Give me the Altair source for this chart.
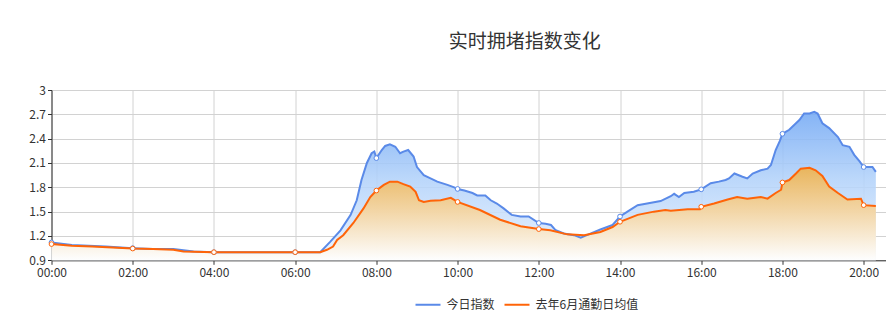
import altair as alt
import pandas as pd

# ---------------- data ----------------
series_names = ["今日指数", "去年6月通勤日均值"]
series_colors = ["#5a8ae8", "#ff6408"]

today_times = [
    "00:00", "00:30", "01:20", "02:00", "02:30", "03:00", "03:30", "04:00", "06:00", "06:37",
    "06:52", "07:07", "07:22", "07:31", "07:38", "07:46", "07:53", "07:57", "08:00", "08:08",
    "08:13", "08:20", "08:28", "08:35", "08:40", "08:47", "08:55", "09:00", "09:10", "09:20",
    "09:30", "09:45", "09:55", "10:00", "10:10", "10:22", "10:29", "10:41", "10:49", "10:58",
    "11:08", "11:20", "11:33", "11:45", "12:00", "12:10", "12:18", "12:25", "12:37", "12:52",
    "13:02", "13:11", "13:31", "13:49", "14:00", "14:11", "14:26", "14:40", "15:00", "15:15",
    "15:20", "15:27", "15:35", "15:49", "16:00", "16:14", "16:26", "16:36", "16:41", "16:49",
    "17:01", "17:08", "17:16", "17:28", "17:38", "17:43", "17:50", "17:56", "18:00", "18:10",
    "18:20", "18:25", "18:32", "18:40", "18:47", "18:52", "18:59", "19:09", "19:22", "19:29",
    "19:39", "19:46", "19:54", "20:00", "20:13", "20:18",
]
today_values = [
    1.12, 1.09, 1.07, 1.05, 1.04, 1.04, 1.01, 1.00, 1.00, 1.00,
    1.13, 1.27, 1.46, 1.64, 1.89, 2.10, 2.22, 2.24, 2.16, 2.26,
    2.31, 2.33, 2.30, 2.22, 2.24, 2.26, 2.18, 2.05, 1.95, 1.91,
    1.87, 1.83, 1.80, 1.78, 1.76, 1.73, 1.70, 1.70, 1.64, 1.60,
    1.54, 1.46, 1.44, 1.44, 1.36, 1.35, 1.335, 1.27, 1.23, 1.21,
    1.18, 1.21, 1.28, 1.335, 1.44, 1.50, 1.58, 1.60, 1.63, 1.69,
    1.72, 1.68, 1.73, 1.745, 1.775, 1.85, 1.87, 1.89, 1.91, 1.97,
    1.93, 1.91, 1.97, 2.01, 2.03, 2.075, 2.26, 2.37, 2.46, 2.51,
    2.59, 2.63, 2.71, 2.71, 2.73, 2.71, 2.59, 2.53, 2.42, 2.32,
    2.30, 2.20, 2.12, 2.05, 2.05, 1.99,
]

lastyear_times = [
    "00:00", "00:30", "01:00", "02:00", "02:30", "03:00", "03:15", "04:00", "06:00", "06:37",
    "06:47", "06:56", "07:02", "07:11", "07:26", "07:41", "07:51", "08:00", "08:11", "08:20",
    "08:31", "08:40", "08:50", "08:58", "09:03", "09:10", "09:20", "09:35", "09:50", "10:00",
    "10:33", "11:03", "11:33", "12:00", "12:17", "12:42", "13:07", "13:31", "13:49", "14:00",
    "14:26", "14:50", "15:07", "15:15", "15:40", "15:58", "16:00", "16:19", "16:39", "16:53",
    "17:08", "17:28", "17:38", "17:50", "17:58", "18:00", "18:10", "18:20", "18:27", "18:40",
    "18:49", "18:59", "19:09", "19:22", "19:36", "19:56", "20:00", "20:18",
]
lastyear_values = [
    1.10, 1.08, 1.07, 1.045, 1.04, 1.03, 1.01, 1.00, 1.00, 1.00,
    1.03, 1.07, 1.15, 1.21, 1.36, 1.54, 1.68, 1.76, 1.83, 1.87,
    1.87, 1.84, 1.81, 1.745, 1.64, 1.62, 1.635, 1.64, 1.67, 1.62,
    1.52, 1.40, 1.32, 1.285, 1.27, 1.22, 1.21, 1.25, 1.31, 1.375,
    1.46, 1.50, 1.52, 1.51, 1.53, 1.53, 1.56, 1.60, 1.65, 1.68,
    1.66, 1.68, 1.66, 1.73, 1.77, 1.86, 1.89, 1.97, 2.03, 2.04,
    2.01, 1.94, 1.81, 1.73, 1.65, 1.66, 1.58, 1.57,
]

x_tick_minutes = [0, 120, 240, 360, 480, 600, 720, 840, 960, 1080, 1200]
y_ticks = [0.9, 1.2, 1.5, 1.8, 2.1, 2.4, 2.7, 3.0]
title_text = "实时拥堵指数变化"


def to_minutes(s):
    h, m = s.split(":")
    return int(h) * 60 + int(m)


df_today = pd.DataFrame({
    "t": [to_minutes(s) for s in today_times],
    "v": today_values,
    "series": series_names[0],
})
df_last = pd.DataFrame({
    "t": [to_minutes(s) for s in lastyear_times],
    "v": lastyear_values,
    "series": series_names[1],
})
df_all = pd.concat([df_today, df_last], ignore_index=True)

FONT = "Noto Sans CJK SC"

x_enc = alt.X(
    "t:Q",
    scale=alt.Scale(domain=[0, 1233], nice=False),
    axis=alt.Axis(
        values=x_tick_minutes,
        labelExpr="(datum.value < 600 ? '0' : '') + datum.value / 60 + ':00'",
        title=None, grid=True, gridColor="#d2d2d2", domainColor="#333333",
        tickColor="#333333", tickSize=4, labelPadding=3, labelFontSize=12,
        labelColor="#333333", labelFont=FONT, labelFlush=False, labelOverlap=False,
    ),
)
y_enc = alt.Y(
    "v:Q",
    scale=alt.Scale(domain=[0.9, 3.0], nice=False, zero=False),
    axis=alt.Axis(
        values=y_ticks, format="~g", title=None, grid=True, gridColor="#d2d2d2",
        domainColor="#333333", tickColor="#333333", tickSize=4, labelPadding=2,
        labelFontSize=12, labelColor="#333333", labelFont=FONT, labelFlush=False,
        labelOverlap=False,
    ),
)

base_today = alt.Chart(df_today)
base_last = alt.Chart(df_last)

area_today = base_today.mark_area(
    fillOpacity=0.88,
    color=alt.Gradient(
        gradient="linear", x1=0, x2=0, y1=0, y2=1,
        stops=[
            alt.GradientStop(color="#74a9f4", offset=0),
            alt.GradientStop(color="#b2d2fa", offset=0.45),
            alt.GradientStop(color="#eaf3fe", offset=1),
        ],
    ),
).encode(x=x_enc, y=y_enc, y2=alt.datum(0.9))

area_last = base_last.mark_area(
    fillOpacity=0.9,
    color=alt.Gradient(
        gradient="linear", x1=0, x2=0, y1=0, y2=1,
        stops=[
            alt.GradientStop(color="#efb24c", offset=0),
            alt.GradientStop(color="#f6d39a", offset=0.45),
            alt.GradientStop(color="#ffffff", offset=1),
        ],
    ),
).encode(x=x_enc, y=y_enc, y2=alt.datum(0.9))

lines = alt.Chart(df_all).mark_line(strokeWidth=2).encode(
    x=x_enc,
    y=y_enc,
    color=alt.Color(
        "series:N",
        scale=alt.Scale(domain=series_names, range=series_colors),
        sort=series_names,
        legend=alt.Legend(
            title=None, orient="none", direction="horizontal",
            legendX=363, legendY=201, symbolType="stroke", symbolSize=625,
            symbolStrokeWidth=2, labelFontSize=12, labelColor="#333333",
            labelFont=FONT, columnPadding=5, labelOffset=5, padding=0,
        ),
    ),
)

marker_filter = "datum.t % 120 == 0"
points_today = base_today.transform_filter(marker_filter).mark_point(
    filled=False, fill="white", fillOpacity=1, stroke=series_colors[0],
    strokeWidth=1, size=22, opacity=1,
).encode(x=x_enc, y=y_enc)
points_last = base_last.transform_filter(marker_filter).mark_point(
    filled=False, fill="white", fillOpacity=1, stroke=series_colors[1],
    strokeWidth=1, size=22, opacity=1,
).encode(x=x_enc, y=y_enc)

chart = alt.layer(
    area_today, area_last, lines, points_today, points_last
).properties(
    width=834.5,
    height=170.3,
    autosize=alt.AutoSizeParams(type="none"),
    padding={"left": 51.5, "top": 90, "right": 0, "bottom": 75.7},
    title=alt.TitleParams(
        text=title_text, anchor="middle", frame="group", dx=56, offset=17,
        baseline="alphabetic", fontSize=19, fontWeight="normal", color="#333333",
        font=FONT,
    ),
).configure_view(stroke=None).configure(background="white")

chart.save("out.html", embed_options={"renderer": "svg", "actions": False})
